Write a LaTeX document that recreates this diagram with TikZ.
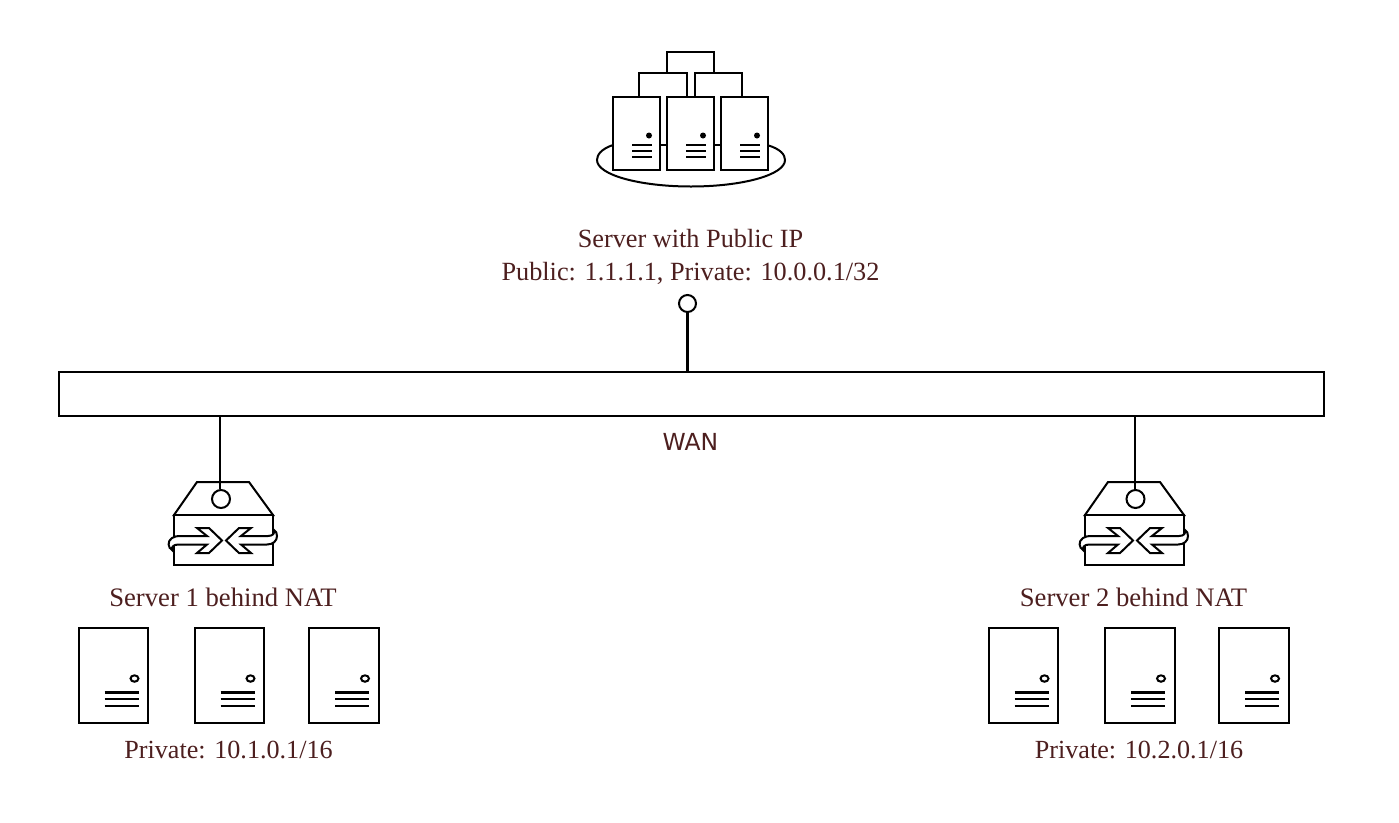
\documentclass[tikz,border=0pt]{standalone}
\usepackage{fontspec}
\setmainfont{Liberation Serif}
\newfontfamily\wanfont{DejaVu Sans}
\definecolor{lbl}{RGB}{77,31,31}
\tikzset{
  ln/.style={draw=black,line width=1.5pt,line join=miter},
  thin ln/.style={draw=black,line width=1.5pt},
  lab/.style={text=lbl,font=\fontsize{19.7pt}{25pt}\selectfont,inner sep=0pt,align=center,anchor=center},
  wanlab/.style={text=lbl,font=\wanfont\fontsize{17.6pt}{20pt}\selectfont,inner sep=0pt,anchor=center},
  srv/.pic={
    \draw[thin ln,fill=white] (0,0) rectangle (69.5,95.5);
    \draw[thin ln] (56,51) ellipse (4 and 3.2);
    \draw[draw=black,line width=2.2pt] (26,65) -- (60,65);
    \draw[thin ln] (26,71.5) -- (60,71.5);
    \draw[thin ln] (26,78) -- (60,78);
  },
  topsrv/.pic={
    \draw[ln,fill=white] (0,0) rectangle (47,73);
    \fill[black] (36,39) circle (3);
    \draw[thin ln] (19,48) -- (39,48);
    \draw[thin ln] (19,54) -- (39,54);
    \draw[thin ln] (19,60) -- (39,60);
  },
  nat/.pic={
    \draw[thin ln,fill=white] (174,515) -- (197,482) -- (249,482) -- (273,515) -- cycle;
    \draw[thin ln,fill=white] (174,515) rectangle (273,565);
    \draw[thin ln,fill=white] (207,536) -- (197,528) -- (209,528) -- (222,540.5) -- (209,553) -- (197,553) -- (207,544.5)
      -- (178,544.5) .. controls (173,544.5) and (171,548) .. (172,550)
      .. controls (168,548) and (167,541) .. (172,538) .. controls (174,536.5) and (177,536) .. (181,536) -- cycle;
    \draw[thin ln,fill=white] (241,536) -- (251,528) -- (239,528) -- (226,540.5) -- (239,553) -- (251,553) -- (241,544.5)
      -- (267,544.5) .. controls (273,544.5) and (277,541) .. (277,536)
      .. controls (277,533) and (276,531) .. (274,530)
      .. controls (275,533) and (273,536) .. (268,536) -- cycle;
  },
}
\begin{document}
\begin{tikzpicture}[x=0.75pt,y=-0.75pt]
\useasboundingbox (0,0) rectangle (1399,822);
\fill[white] (0,0) rectangle (1399,822);
% top cluster
\draw[ln] (613,145) .. controls (601,149) and (597,155) .. (597,160)
  .. controls (597,175) and (640,186.5) .. (691,186.5)
  .. controls (742,186.5) and (785,175) .. (785,160)
  .. controls (785,155) and (781,149) .. (767,145);
\draw[ln] (687,73) -- (667,73) -- (667,52) -- (714,52) -- (714,73) -- (695,73);
\draw[ln] (639,96) -- (639,73) -- (687,73) -- (687,96);
\draw[ln] (695,96) -- (695,73) -- (742,73) -- (742,96);
\draw[ln] (660,145) -- (667,145);
\draw[ln] (714,145) -- (721,145);
\pic at (613,96.5) {topsrv};
\pic at (667,96.5) {topsrv};
\pic at (721,96.5) {topsrv};
% labels
\node[lab] (pub) at (690.5,257) {Server with Public IP\\[0.1pt]Public: 1.1.1.1, Private: 10.0.0.1/32};
% WAN
\node[draw=black,line width=1.5pt,fill=white,outer sep=0pt,minimum width=1265*0.75pt,minimum height=44*0.75pt,inner sep=0pt,anchor=north west] (wan) at (58.5,371.5) {};
\node[wanlab] (wanl) at (690.5,442) {WAN};
\node[circle,draw=black,line width=1.5pt,fill=white,minimum size=17*0.75pt,inner sep=0pt] (pubc) at (687.5,303.5) {};
\draw[line width=2pt] (pubc.south) -- (pubc.south |- wan.north);
% NATs
\pic at (0,0) {nat};
\pic at (911,0) {nat};
\coordinate (w1) at (220,416);
\coordinate (w2) at (1135,416);
\node[circle,draw=black,line width=1.5pt,fill=white,minimum size=18*0.75pt,inner sep=0pt] (c1) at (221,499) {};
\node[circle,draw=black,line width=1.5pt,fill=white,minimum size=18*0.75pt,inner sep=0pt] (c2) at (1135.5,499) {};
\draw[thin ln] (w1) -- (w1 |- c1.north);
\draw[thin ln] (w2) -- (w2 |- c2.north);
\node[lab,font=\fontsize{20pt}{25pt}\selectfont] (s1) at (223,597) {Server 1 behind NAT};
\node[lab,font=\fontsize{20pt}{25pt}\selectfont] (s2) at (1133.5,597) {Server 2 behind NAT};
\pic at (78.5,627.5) {srv};
\pic at (194.5,627.5) {srv};
\pic at (309,627.5) {srv};
\pic at (988.5,627.5) {srv};
\pic at (1105,627.5) {srv};
\pic at (1219,627.5) {srv};
\node[lab,font=\fontsize{19.6pt}{25pt}\selectfont] (p1) at (228.5,749.7) {Private: 10.1.0.1/16};
\node[lab,font=\fontsize{19.6pt}{25pt}\selectfont] (p2) at (1139,749.7) {Private: 10.2.0.1/16};
\end{tikzpicture}
\end{document}
